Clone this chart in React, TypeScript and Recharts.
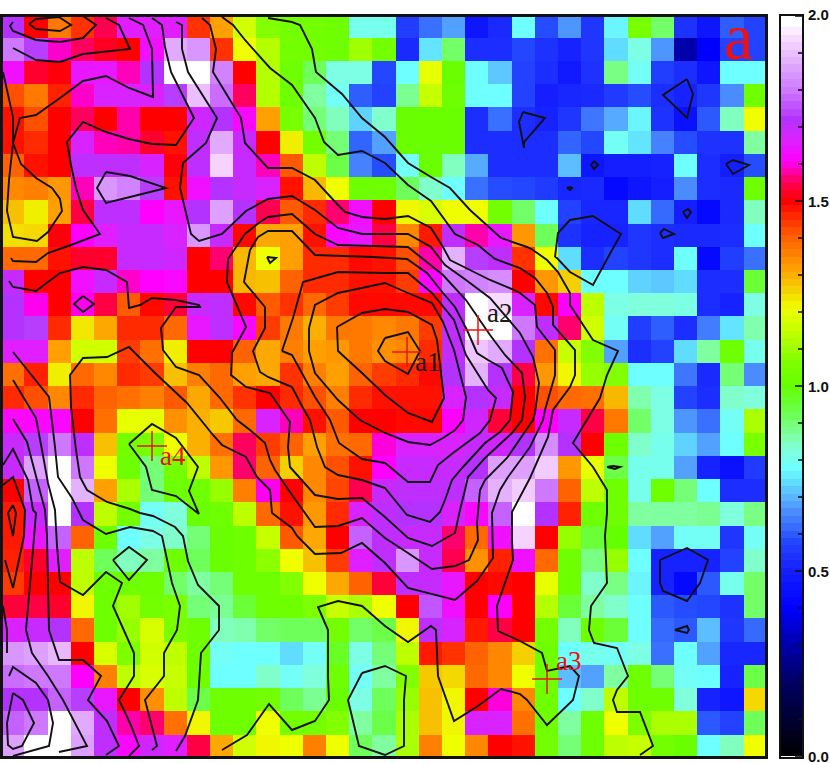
import React from 'react';
import { ScatterChart, Scatter, XAxis, YAxis } from 'recharts';

// Map readings, row by row (top to bottom), 33 cells per row.
const row00 = [1.76,1.49,1.35,1.43,1.56,1.71,1.71,1.71,1.43,1.30,1.14,1.06,1.03,1.03,1.02,.84,.84,.57,.66,.72,.47,.52,.82,.60,.71,.55,.81,1.04,.94,.54,.47,.63,.58];
const row01 = [1.82,1.77,1.64,1.57,1.52,1.49,1.69,1.87,1.85,1.43,1.18,1.11,1.03,1.03,1.02,1.09,1.03,.52,.79,.94,.53,.53,.59,.54,.50,.55,.78,.85,.71,.25,.42,.58,.58];
const row02 = [1.69,1.53,1.50,1.70,1.70,1.63,1.76,2.0,2.0,1.83,1.49,1.11,1.02,.95,.85,.85,.59,.82,1.17,1.01,.82,.76,.58,.53,.48,.54,.92,.83,.57,.53,.47,.82,.82];
const row03 = [1.40,1.35,1.45,1.64,1.72,1.72,1.72,1.77,1.90,1.81,1.57,1.11,1.02,.90,.83,.63,.58,.91,1.13,1.02,.82,.82,.58,.49,.51,.52,.56,.60,.53,.50,.55,.70,1.02];
const row04 = [1.47,1.40,1.49,1.57,1.49,1.62,1.49,1.49,1.73,1.76,1.68,1.30,1.04,.93,.88,.77,.87,1.01,1.01,1.01,.53,.66,.53,.50,.55,.67,.73,.81,.54,.46,.62,.88,1.18];
const row05 = [1.47,1.44,1.49,1.72,1.63,1.62,1.53,1.47,1.75,1.87,1.74,1.49,1.20,1.03,.93,.64,.72,1.01,1.01,1.01,.53,.53,.53,.53,.64,.59,.83,.79,.69,.60,.54,.54,.90];
const row06 = [1.38,1.47,1.49,1.75,1.75,1.75,1.72,1.50,1.75,1.93,1.74,1.63,1.39,1.12,.96,.69,.60,.83,1.01,.88,.73,.53,.53,.53,.75,.47,.49,.49,.50,.82,.53,.49,.60];
const row07 = [1.33,1.34,1.31,1.63,1.85,1.83,1.77,1.47,1.69,1.76,1.74,1.72,1.47,1.27,1.18,1.02,1.02,.95,.87,.82,.66,.60,.59,.56,.51,.52,.44,.47,.49,.70,.53,.52,1.02];
const row08 = [1.26,1.20,1.30,1.55,1.75,1.75,1.67,1.70,1.76,1.86,1.76,1.56,1.39,1.44,1.58,1.69,1.49,1.19,1.15,1.18,1.18,1.03,.94,.82,.58,.51,.51,.78,.65,.49,.44,.52,.88];
const row09 = [1.22,1.23,1.50,1.67,1.71,1.74,1.74,1.72,1.85,1.74,1.48,1.29,1.30,1.47,1.68,1.70,1.55,1.33,1.46,1.75,1.62,1.70,1.31,.95,.54,.50,.50,.55,.53,.52,.52,.53,.82];
const row10 = [1.37,1.37,1.47,1.53,1.53,1.74,1.74,1.73,1.49,1.58,1.27,1.18,1.30,1.44,1.44,1.48,1.47,1.40,1.62,1.88,1.77,1.75,1.43,1.18,.78,.53,.58,.55,.53,.82,.44,.57,.66];
const row11 = [1.74,1.49,1.49,1.69,1.74,1.64,1.67,1.68,1.49,1.49,1.27,1.26,1.38,1.44,1.44,1.47,1.47,1.42,1.68,1.82,1.83,1.84,1.49,1.31,1.24,.82,.82,.77,.76,.78,.53,.53,.97];
const row12 = [1.76,1.66,1.49,1.66,1.55,1.39,1.48,1.54,1.74,1.75,1.48,1.39,1.43,1.37,1.42,1.48,1.48,1.48,1.48,1.75,2.0,1.94,1.72,1.48,1.67,1.12,.85,.86,.86,.85,.53,.50,.85];
const row13 = [1.76,1.77,1.44,1.21,1.29,1.44,1.44,1.37,1.70,1.75,1.68,1.42,1.35,1.28,1.35,1.35,1.33,1.35,1.42,1.75,2.0,1.99,1.82,1.75,1.58,1.14,.83,.57,.63,.53,.68,.79,.89];
const row14 = [1.71,1.71,1.30,1.14,1.14,1.42,1.36,1.20,1.49,1.49,1.38,1.29,1.34,1.30,1.31,1.35,1.32,1.33,1.44,1.75,1.91,1.87,1.76,1.36,1.13,1.06,.72,.53,.58,.78,.90,1.02,.84];
const row15 = [1.36,1.45,1.20,1.37,1.33,1.44,1.42,1.26,1.34,1.37,1.30,1.29,1.43,1.34,1.30,1.38,1.42,1.44,1.48,1.76,1.88,1.76,1.55,1.31,1.19,1.08,1.06,.82,.82,.67,.52,.93,.70];
const row16 = [1.44,1.40,1.33,1.44,1.38,1.36,1.34,1.39,1.29,1.37,1.43,1.49,1.44,1.40,1.34,1.44,1.47,1.47,1.47,1.72,1.76,1.74,1.49,1.40,1.37,1.36,1.27,.89,.85,.58,.53,.87,.86];
const row17 = [1.68,1.68,1.68,1.49,1.36,1.17,1.17,1.32,1.28,1.25,1.37,1.72,1.63,1.47,1.39,1.49,1.49,1.48,1.48,1.67,1.73,1.54,1.49,1.67,1.74,1.55,1.35,.94,.85,.71,.66,.83,1.10];
const row18 = [1.74,1.77,1.82,1.75,1.26,1.03,1.04,1.18,1.28,1.36,1.57,1.42,1.38,1.30,1.36,1.37,1.65,1.72,1.72,1.72,1.74,1.73,1.76,1.84,1.76,1.49,1.02,.87,.84,.77,.72,.82,1.04];
const row19 = [1.74,1.86,1.99,1.82,1.18,1.02,.93,1.03,1.12,1.31,1.58,1.38,1.24,1.33,1.40,1.47,1.67,1.74,1.74,1.74,1.76,1.86,1.86,1.92,1.31,1.17,.96,.84,.84,.72,.50,.46,.56];
const row20 = [1.49,1.80,1.99,1.88,1.30,1.10,.93,1.02,1.02,1.08,1.34,1.66,1.49,1.33,1.41,1.56,1.74,1.75,1.75,1.75,1.80,1.88,1.92,1.82,1.38,1.12,1.02,.84,1.02,.93,.82,.53,.53];
const row21 = [1.46,1.74,2.0,1.76,1.12,1.03,.83,.86,1.01,1.02,1.12,1.37,1.47,1.31,1.44,1.72,1.75,1.76,1.76,1.72,1.68,1.80,2.0,1.76,1.45,1.02,1.02,.90,.90,.90,.91,.86,.92];
const row22 = [1.46,1.70,1.80,1.38,1.02,.82,.85,.87,.93,1.01,1.02,1.13,1.39,1.29,1.49,1.80,1.75,1.74,1.74,1.58,1.37,1.69,1.93,1.49,1.08,.97,1.0,.78,.72,.83,.83,.55,.83];
const row23 = [1.45,1.53,1.71,1.12,.95,.88,.90,1.02,.95,1.01,1.02,1.07,1.18,1.26,1.42,1.71,1.75,1.85,1.74,1.56,1.32,1.45,1.69,1.37,1.02,.92,1.08,.82,.50,.50,.50,.58,.87];
const row24 = [1.42,1.49,1.49,1.12,1.02,1.02,1.02,.94,.90,.93,1.02,1.02,1.06,1.18,1.29,1.38,1.54,1.75,1.74,1.70,1.49,1.48,1.49,1.17,1.02,.87,.92,.81,.50,.44,.62,.84,.94];
const row25 = [1.54,1.55,1.53,1.19,1.02,1.09,1.03,1.04,.93,.91,.97,1.02,1.02,1.05,1.13,1.10,1.18,1.49,1.79,1.69,1.49,1.67,1.49,1.11,.97,.90,.87,.82,.62,.60,.59,.54,.94];
const row26 = [1.72,1.74,1.76,1.37,1.02,1.08,1.15,1.04,1.02,.88,.89,.94,.95,.95,1.03,.94,.96,1.19,1.75,1.72,1.46,1.55,1.49,1.03,.88,1.02,.97,.82,.65,.62,.75,.55,.65];
const row27 = [1.85,1.86,1.89,1.49,1.15,1.05,1.14,1.12,1.02,.83,.82,.82,.78,.83,.98,.85,.93,1.12,1.46,1.43,1.38,1.33,1.24,1.02,.82,.84,.83,.85,.66,.82,.72,.51,.51];
const row28 = [1.81,1.82,1.82,1.67,1.34,1.12,1.15,1.13,1.02,.82,.82,.87,.83,.86,1.02,.83,.90,1.06,1.25,1.23,1.37,1.33,1.18,1.02,.75,.72,.90,1.02,.93,.83,.82,.50,.96];
const row29 = [1.76,1.76,1.80,1.77,1.70,1.49,1.32,1.12,.96,1.02,1.02,1.03,.95,.91,1.01,.85,.95,1.08,1.26,1.19,1.49,1.65,1.33,1.02,.82,.87,1.12,1.02,1.02,.86,.50,.47,1.23];
const row30 = [1.80,1.82,1.98,1.87,1.75,1.62,1.58,1.36,1.19,1.02,1.02,1.18,1.03,1.03,1.06,.90,.96,1.10,1.26,1.19,1.72,1.72,1.36,1.02,.90,1.02,1.18,1.05,1.10,1.10,.62,.58,.95];
const row31 = [1.86,2.0,2.0,1.86,1.75,1.68,1.73,1.71,1.55,1.29,1.14,1.19,1.18,1.34,1.18,.95,.90,1.10,1.34,1.18,1.33,1.49,1.47,1.03,.93,1.02,1.12,1.13,1.03,1.01,.82,.88,1.18];
const mapRows = [row00,row01,row02,row03,row04,row05,row06,row07,row08,row09,row10,row11,row12,row13,row14,row15,row16,row17,row18,row19,row20,row21,row22,row23,row24,row25,row26,row27,row28,row29,row30,row31];

// Contour traces in map coordinates.
type P = number[];
const contourA: P[] = [[13,22],[10,26],[13,31],[36,40],[60,42],[83,38],[96,25],[83,16]];
const contourB: P[] = [[29,24],[36,19],[59,17],[71,25],[60,31],[36,29],[29,24]];
const contourC: P[] = [[13,48],[36,60],[60,62],[83,54],[130,49],[119,25],[106,18]];
const contourD: P[] = [[129,18],[143,25],[152,49],[153,97],[129,88],[106,76],[83,81],[60,98],[36,115],[20,118],[13,143],[21,164],[36,178],[52,188],[60,199],[62,211],[48,232],[37,241],[13,237],[7,211],[9,180],[13,143],[13,117],[3,72]];
const contourE: P[] = [[152,18],[162,25],[165,47],[171,72],[194,118],[176,145],[152,144],[129,139],[106,132],[83,122],[67,142],[71,165],[76,188],[83,210],[100,234],[71,245],[48,253],[36,262],[13,261],[11,258]];
const contourF: P[] = [[176,22],[182,25],[182,49],[188,72],[217,118],[206,143],[183,163],[180,188],[191,234],[199,241],[222,234],[246,211],[268,199],[292,196],[315,210],[338,228],[362,234],[408,234],[431,247],[445,265],[466,280],[490,298],[520,333],[533,357],[539,383],[535,413],[533,420],[507,458],[485,480],[480,490],[477,523],[478,540],[469,560],[455,566],[432,569],[408,553],[385,538],[362,518],[338,526],[315,527],[292,495],[275,470],[270,460],[265,443],[250,430],[237,420],[220,398],[199,375],[176,367],[163,350],[161,328],[176,307],[200,307],[199,305],[176,300],[152,298],[140,305],[129,308],[127,282],[106,270],[83,267],[60,273],[48,282],[36,291],[13,287],[9,281]];
const contourG: P[] = [[202,18],[210,25],[216,49],[213,72],[241,118],[245,143],[268,168],[292,168],[315,180],[338,205],[345,212],[362,217],[385,219],[408,216],[431,228],[443,247],[450,260],[466,268],[490,280],[512,289],[520,293],[535,305],[537,327],[555,350],[555,375],[545,410],[543,420],[530,447],[508,477],[500,490],[492,513],[493,558],[477,581],[455,600],[408,588],[385,563],[362,543],[341,553],[315,554],[297,536],[292,528],[272,513],[270,490],[257,477],[246,457],[222,445],[213,435],[187,403],[155,373],[129,347],[107,357],[83,358],[70,375],[71,407],[76,450],[80,477],[87,490],[107,502],[130,509],[140,513],[153,516],[175,527],[183,536],[188,561],[198,585],[219,606],[219,630],[201,653],[198,700],[185,736],[176,751]];
const contourH: P[] = [[222,17],[233,25],[245,40],[270,68],[292,85],[315,118],[324,142],[338,155],[362,151],[385,163],[408,185],[431,201],[455,234],[478,245],[495,259],[520,268],[535,278],[547,293],[553,307],[553,325],[575,350],[575,375],[570,387],[553,410],[548,437],[530,478],[512,512],[512,540],[513,560],[497,606],[498,631],[520,641],[542,653],[547,671],[570,666],[579,676],[573,700],[547,725],[527,700],[520,694],[501,689],[478,706],[454,721],[438,676],[436,630],[431,626],[408,642],[385,626],[362,606],[338,601],[318,607],[328,630],[328,676],[329,700],[315,721],[292,730],[269,704],[247,735],[222,750]];
const contourI: P[] = [[268,18],[292,22],[300,25],[312,49],[316,72],[342,94],[362,118],[385,137],[408,163],[431,177],[450,188],[470,210],[501,238],[527,247],[533,250],[547,260],[558,272],[570,293],[570,305],[593,340],[618,351],[607,375],[600,398],[573,443],[593,467],[607,490],[607,513],[605,536],[607,583],[591,606],[589,630],[594,643],[617,648],[628,676],[617,690],[613,700],[617,712],[640,712],[653,746],[640,755]];
const contourJ: P[] = [[228,259],[245,234],[260,222],[268,217],[292,214],[315,234],[338,245],[408,247],[423,259],[443,275],[466,300],[490,335],[505,355],[522,373],[525,397],[522,420],[512,433],[485,458],[468,477],[465,490],[460,510],[455,533],[432,546],[408,538],[385,517],[362,498],[338,499],[315,495],[290,467],[288,447],[290,422],[270,393],[246,387],[231,375],[232,353],[246,327],[227,282],[228,259]];
const contourK: P[] = [[258,237],[268,231],[292,231],[315,255],[373,257],[407,259],[427,273],[443,293],[455,307],[467,330],[477,353],[488,360],[502,368],[513,392],[510,420],[500,432],[485,443],[463,467],[452,480],[445,500],[440,512],[430,522],[407,515],[385,488],[362,480],[338,475],[325,467],[317,447],[310,420],[303,408],[292,387],[268,377],[260,372],[253,351],[265,328],[265,307],[244,282],[250,250],[258,237]];
const contourL: P[] = [[282,351],[293,318],[303,282],[338,272],[385,273],[408,273],[432,293],[454,320],[466,355],[488,390],[496,398],[490,420],[480,433],[453,453],[438,465],[430,482],[408,482],[385,463],[362,459],[339,443],[330,420],[315,397],[292,355],[282,351]];
const contourM: P[] = [[309,328],[315,305],[338,293],[385,283],[408,293],[432,303],[443,322],[454,350],[466,397],[463,420],[455,430],[443,438],[430,445],[408,442],[385,433],[360,420],[338,400],[315,373],[309,351],[309,328]];
const contourN: P[] = [[337,327],[338,351],[362,373],[385,395],[408,413],[432,422],[444,398],[437,340],[432,325],[408,312],[385,309],[362,313],[337,327]];
const contourO: P[] = [[385,338],[408,332],[420,351],[408,374],[385,361],[378,351],[385,338]];
const contourP: P[] = [[106,172],[130,176],[166,188],[130,197],[106,203],[97,188],[106,172]];
const contourQ: P[] = [[83,296],[94,304],[83,312],[74,304],[83,296]];
const contourR: P[] = [[687,79],[693,94],[687,118],[663,95],[687,79]];
const contourS: P[] = [[523,112],[545,118],[524,142],[524,148],[519,122],[523,112]];
const contourT: P[] = [[594,161],[598,165],[594,169],[591,165],[594,161]];
const contourU: P[] = [[567,188],[570,187],[572,188],[570,190],[567,188]];
const contourV: P[] = [[683,212],[688,209],[691,212],[687,218],[683,212]];
const contourW: P[] = [[726,164],[733,160],[749,165],[733,174],[726,164]];
const contourX: P[] = [[660,233],[664,229],[674,234],[663,238],[660,233]];
const contourY: P[] = [[555,257],[558,233],[570,220],[593,216],[621,234],[612,250],[593,285],[570,272],[557,258],[555,257]];
const contourZ: P[] = [[607,467],[613,466],[620,467],[615,469],[607,467]];
const contourAA: P[] = [[660,560],[687,548],[708,560],[700,583],[687,601],[663,591],[660,583],[660,560]];
const contourAB: P[] = [[675,630],[687,626],[689,630],[687,633],[675,630]];
const contourAC: P[] = [[267,257],[276,258],[270,263],[267,257]];
const contourAD: P[] = [[113,560],[129,547],[147,560],[129,580],[113,560]];
const contourAE: P[] = [[13,693],[23,700],[34,723],[22,746],[13,749],[8,745],[7,723],[13,693]];
const contourAF: P[] = [[9,676],[13,667],[36,683],[48,700],[53,723],[49,746],[13,756]];
const contourAG: P[] = [[3,606],[7,630],[7,653]];
const contourAH: P[] = [[362,673],[385,666],[406,676],[404,700],[404,746],[385,755],[359,746],[348,700],[362,673]];
const contourAI: P[] = [[129,444],[152,424],[176,438],[198,467],[189,491],[199,514],[176,496],[152,490],[146,467],[129,444]];
const contourAJ: P[] = [[13,505],[16,513],[13,536],[8,513],[13,505]];
const contourAK: P[] = [[3,485],[13,477],[25,510],[24,536],[13,588],[5,560]];
const contourAL: P[] = [[3,465],[13,449],[28,480],[33,510],[36,513],[33,550],[26,630],[32,653],[48,676],[63,700],[87,746],[59,752]];
const contourAM: P[] = [[13,419],[27,442],[37,480],[45,510],[47,536],[49,630],[59,660],[83,660],[101,676],[88,700],[107,721],[119,746],[106,755]];
const contourAN: P[] = [[13,380],[36,418],[42,450],[48,483],[55,510],[57,546],[60,582],[83,595],[106,572],[122,583],[113,606],[134,653],[134,676],[119,700],[130,723],[139,746],[129,756]];
const contourAO: P[] = [[13,352],[33,377],[49,397],[55,447],[58,477],[72,498],[83,520],[106,534],[130,527],[153,531],[162,536],[172,583],[180,606],[177,630],[164,653],[164,676],[145,700],[157,746],[152,750]];
const contours = [contourA,contourB,contourC,contourD,contourE,contourF,contourG,contourH,contourI,contourJ,contourK,contourL,contourM,contourN,contourO,contourP,contourQ,contourR,contourS,contourT,contourU,contourV,contourW,contourX,contourY,contourZ,contourAA,contourAB,contourAC,contourAD,contourAE,contourAF,contourAG,contourAH,contourAI,contourAJ,contourAK,contourAL,contourAM,contourAN,contourAO];

// Marked positions.
const markerNames = ['a1','a2','a3','a4'];
const markerX = [407,478,547,152];
const markerY = [352,330,679,446];

// Colour bar.
const barLevels = [0,.02,.04,.06,.08,.1,.12,.14,.16,.18,.2,.22,.24,.26,.28,.3,.32,.34,.36,.38,.4,.42,.44,.46,.48,.5,.52,.54,.56,.58,.6,.62,.64,.66,.68,.7,.72,.74,.76,.78,.8,.82,.84,.86,.88,.9,.92,.94,.96,.98,1,1.02,1.04,1.06,1.08,1.1,1.12,1.14,1.16,1.18,1.2,1.22,1.24,1.26,1.28,1.3,1.32,1.34,1.36,1.38,1.4,1.42,1.44,1.46,1.48,1.5,1.52,1.54,1.56,1.58,1.6,1.62,1.64,1.66,1.68,1.7,1.72,1.74,1.76,1.78,1.8,1.82,1.84,1.86,1.88,1.9,1.92,1.94,1.96,1.98,2];
const barTicks = [0,.1,.2,.3,.4,.5,.6,.7,.8,.9,1,1.1,1.2,1.3,1.4,1.5,1.6,1.7,1.8,1.9,2];

// Palette: colour, position used for map readings, position on the colour bar.
const paletteColours = [[0,0,0],[0,0,100],[0,0,170],[0,0,255],[20,30,255],[30,50,255],[35,70,255],[50,100,255],[70,130,255],[90,180,255],[96,220,255],[110,255,255],[128,255,220],[128,255,160],[110,255,90],[100,255,0],[130,255,0],[190,255,0],[240,255,0],[245,200,0],[255,160,0],[255,120,0],[255,90,0],[255,50,0],[255,0,0],[255,0,80],[255,0,170],[255,0,255],[225,30,255],[180,50,255],[205,120,255],[225,170,255],[245,210,255],[255,255,255]];
const readingStops = [0,.15,.25,.42,.49,.54,.59,.64,.69,.74,.78,.82,.86,.90,.95,1,1.06,1.12,1.18,1.25,1.30,1.35,1.39,1.43,1.49,1.56,1.62,1.67,1.71,1.76,1.82,1.87,1.93,1.98];
const barStops = [0,.2,.3,.4,.5,.54,.58,.61,.65,.70,.74,.78,.83,.87,.92,1,1.07,1.14,1.21,1.27,1.32,1.37,1.41,1.45,1.5,1.55,1.58,1.61,1.66,1.72,1.8,1.87,1.93,1.98];

const colourAt = (v: number, stops: number[]) => {
  if (v <= stops[0]) return `rgb(${paletteColours[0].join(',')})`;
  for (let i = 1; i < stops.length; i++) {
    if (v <= stops[i]) {
      const t = (v - stops[i - 1]) / (stops[i] - stops[i - 1]);
      const a = paletteColours[i - 1];
      const b = paletteColours[i];
      return `rgb(${Math.round(a[0] + (b[0] - a[0]) * t)},${Math.round(a[1] + (b[1] - a[1]) * t)},${Math.round(a[2] + (b[2] - a[2]) * t)})`;
    }
  }
  return 'rgb(255,255,255)';
};

// Plot geometry: one map unit is one pixel.
const X0 = 3, X1 = 765, Y0 = 17, Y1 = 756;
const colFirst = 24.3, colStep = 23.2, rowFirst = 37.7, rowStep = 23.23;
const colEdge = (i: number) => (i <= 0 ? X0 : i >= 33 ? X1 : colFirst + (i - 1) * colStep);
const rowEdge = (j: number) => (j <= 0 ? Y0 : j >= 32 ? Y1 : rowFirst + (j - 1) * rowStep);

const cells = mapRows.flatMap((row, j) =>
  row.map((v, i) => ({
    x: (colEdge(i) + colEdge(i + 1)) / 2,
    y: (rowEdge(j) + rowEdge(j + 1)) / 2,
    w: colEdge(i + 1) - colEdge(i),
    h: rowEdge(j + 1) - rowEdge(j),
    fill: colourAt(v, readingStops),
  })),
);

const markers = markerNames.map((name, i) => ({ name, x: markerX[i], y: markerY[i] }));
const labelStyle: Record<string, { dx: number; dy: number; fill: string }> = {
  a1: { dx: 8, dy: 19, fill: '#1a1a1a' },
  a2: { dx: 9, dy: -8, fill: '#1a1a1a' },
  a3: { dx: 9, dy: -9, fill: '#ee1111' },
  a4: { dx: 8, dy: 19, fill: '#ee1111' },
};

const CellShape = (p: any) => {
  const d = p.payload;
  return <rect x={p.cx - d.w / 2} y={p.cy - d.h / 2} width={d.w} height={d.h} fill={d.fill} shapeRendering="crispEdges" />;
};
const NoMark = () => <g />;
const MarkerShape = (p: any) => {
  const s = labelStyle[p.payload.name];
  return (
    <g>
      <line x1={p.cx - 15} x2={p.cx + 15} y1={p.cy} y2={p.cy} stroke="#ee1111" strokeWidth={1.5} />
      <line x1={p.cx} x2={p.cx} y1={p.cy - 15} y2={p.cy + 15} stroke="#ee1111" strokeWidth={1.5} />
      <text x={p.cx + s.dx} y={p.cy + s.dy} fontFamily="Liberation Serif" fontSize={27} fill={s.fill}>{p.payload.name}</text>
    </g>
  );
};

const barCells = barLevels.map((v) => ({ x: 0.5, y: v, fill: colourAt(v, barStops) }));
const BarBand = (p: any) => (
  <rect x={p.cx - 11} y={p.cy - 4} width={22} height={8} fill={p.payload.fill} shapeRendering="crispEdges" />
);
const BarTick = (p: any) => {
  const v = Number(p.payload.value);
  const major = Math.abs(v * 2 - Math.round(v * 2)) < 1e-6;
  const shift = v === 2 ? -1.5 : 0;
  return (
    <g>
      <line x1={p.x - (major ? 7 : 4)} x2={p.x} y1={p.y} y2={p.y} stroke="#111" strokeWidth={1.6} />
      {major && (
        <text x={p.x + 6} y={p.y + shift} dominantBaseline="central" fontFamily="Liberation Sans" fontWeight="bold" fontSize={15} fill="#111">
          {v.toFixed(1)}
        </text>
      )}
    </g>
  );
};

const frame = (left: number, top: number, width: number, height: number, border: number): React.CSSProperties => ({
  position: 'absolute', left, top, width, height, boxSizing: 'border-box', border: `${border}px solid #111`, pointerEvents: 'none',
});

export default function App() {
  return (
    <div style={{ position: 'absolute', left: 0, top: 0, width: 830, height: 763, overflow: 'hidden', background: '#fff' }}>
      <div style={{ position: 'absolute', left: 0, top: 0 }}>
        <ScatterChart width={830} height={763} margin={{ left: X0, right: 830 - X1, top: Y0, bottom: 763 - Y1 }}>
          <XAxis type="number" dataKey="x" domain={[X0, X1]} hide allowDataOverflow />
          <YAxis type="number" dataKey="y" domain={[Y0, Y1]} reversed hide allowDataOverflow />
          <Scatter data={cells} shape={CellShape} isAnimationActive={false} />
          {contours.map((c, i) => (
            <Scatter
              key={i}
              data={c.map(([x, y]) => ({ x, y }))}
              line={{ stroke: '#111', strokeWidth: 1.9 }}
              shape={NoMark}
              isAnimationActive={false}
            />
          ))}
          <Scatter data={markers} shape={MarkerShape} isAnimationActive={false} />
        </ScatterChart>
      </div>
      <div style={{ position: 'absolute', left: 775, top: 0 }}>
        <ScatterChart width={55} height={763} margin={{ left: 7, right: 0, top: 16, bottom: 7 }}>
          <XAxis type="number" dataKey="x" domain={[0, 1]} hide />
          <YAxis
            type="number"
            dataKey="y"
            orientation="right"
            width={28}
            domain={[0, 2]}
            ticks={barTicks}
            interval={0}
            axisLine={false}
            tickLine={false}
            tickSize={0}
            tickMargin={0}
            tick={BarTick}
            allowDataOverflow
          />
          <Scatter data={barCells} shape={BarBand} isAnimationActive={false} />
        </ScatterChart>
      </div>
      <div style={frame(0, 14, 768, 745, 3)} />
      <div style={frame(779, 13.5, 25, 745.5, 2.5)} />
      <div style={{ position: 'absolute', left: 724, top: -3, fontFamily: 'Liberation Serif', fontSize: 66, lineHeight: '79px', color: '#ee1111' }}>a</div>
    </div>
  );
}
